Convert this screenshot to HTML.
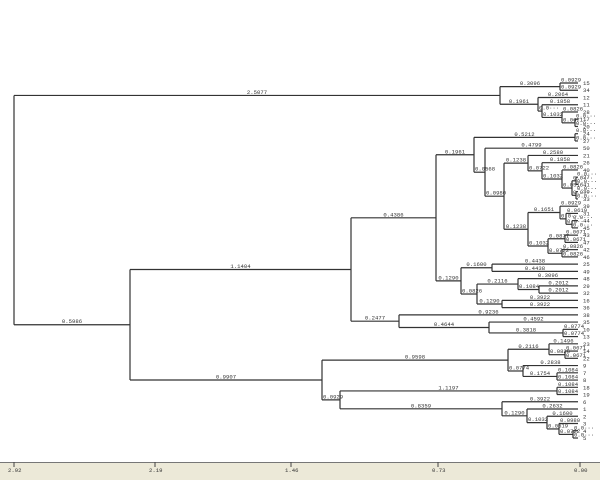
<!DOCTYPE html>
<html><head><meta charset="utf-8">
<style>
html,body{margin:0;padding:0;background:#fff;width:600px;height:480px;overflow:hidden}
svg{display:block}
text{font-family:"Liberation Mono",monospace;font-size:5.6px;fill:#333;stroke:none}
</style></head><body>
<svg id="s" width="600" height="480" xmlns="http://www.w3.org/2000/svg">
<rect x="0" y="462" width="600" height="18" fill="#ece9d8"/>
<line x1="0" y1="462.5" x2="600" y2="462.5" stroke="#777" stroke-width="1"/>
<g stroke="#444" stroke-width="1">
<line x1="14" y1="462" x2="14" y2="467"/><line x1="155" y1="462" x2="155" y2="467"/>
<line x1="291" y1="462" x2="291" y2="467"/><line x1="438" y1="462" x2="438" y2="467"/>
<line x1="580" y1="462" x2="580" y2="467"/>
</g>
<text x="8" y="472">2.92</text><text x="149" y="472">2.19</text><text x="285" y="472">1.46</text><text x="432" y="472">0.73</text><text x="574" y="472">0.00</text>
<g id="g"></g>
</svg>
<script>
var tree=[14,
 [500,[560,15,34],[538,12,[542,11,[562,28,[575,17,20]]]]],
 [130,
  [351,
   [436,
    [474,[575,24,27],
     [485,50,
      [504,
       [528,21,[542,26,[562,40,[572,[576,37,41],[576,30,33]]]]],
       [528,[560,39,[566,31,[572,44,45]]],[548,[565,43,47],[562,42,46]]]
      ]]],
    [461,[492,25,49],[477,[518,48,[539,29,32]],[502,16,36]]]
   ],
   [399,38,[489,35,[563,10,13]]]
  ],
  [322,
   [508,[549,23,[565,14,22]],[523,9,[557,7,8]]],
   [340,[557,18,19],[502,6,[527,1,[547,2,[559,3,[573,4,5]]]]]]
  ]
 ]
];
var LX=578,idx=0,out=[],txt=[];
function fmt(v){return v<0.05?"0.0\u00b7\u00b7\u00b7":v.toFixed(4);}
function lay(n){
 if(typeof n==="number"){var y=83+idx*7.245;idx++;
  txt.push('<text x="'+(LX+5)+'" y="'+(y+2)+'">'+n+'</text>');
  return {x:LX,y:y};}
 var px=n[0],ch=[];
 for(var i=1;i<n.length;i++)ch.push(lay(n[i]));
 var y0=ch[0].y,y1=ch[ch.length-1].y,py=(y0+y1)/2;
 out.push('<line x1="'+px+'" y1="'+y0+'" x2="'+px+'" y2="'+y1+'"/>');
 ch.forEach(function(c){
  out.push('<line x1="'+px+'" y1="'+c.y+'" x2="'+c.x+'" y2="'+c.y+'"/>');
  var v=(c.x-px)/193.8,t=fmt(v),w=t.length*3.36;
  var tx=(px+c.x)/2-w/2; if(c.x-px<w+2)tx=px+1;
  txt.push('<text x="'+tx+'" y="'+(c.y-1.5)+'">'+t+'</text>');
 });
 return {x:px,y:py};
}
lay(tree);
document.getElementById("g").innerHTML='<g stroke="#333" stroke-width="1.2" fill="none">'+out.join("")+'</g>'+txt.join("");
</script>
</body></html>
